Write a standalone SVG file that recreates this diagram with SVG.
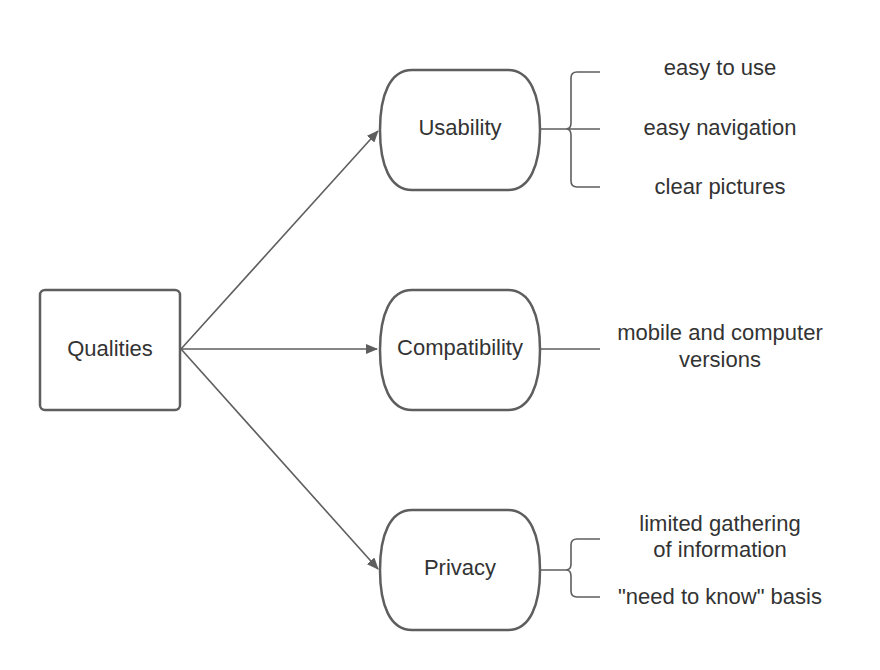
<svg xmlns="http://www.w3.org/2000/svg" width="880" height="670" viewBox="0 0 880 670">
<defs>
<style>
.shape{fill:#fff;stroke:#5e5e5e;stroke-width:2.5}
.ln{fill:none;stroke:#5e5e5e;stroke-width:1.6}
.t{font-family:"Liberation Sans",Arial,sans-serif;font-size:22px;fill:#333;text-anchor:middle}
</style>
<marker id="ah" viewBox="0 0 12 10" refX="11" refY="5" markerWidth="12" markerHeight="10" markerUnits="userSpaceOnUse" orient="auto">
<path d="M0,0 L12,5 L0,10 Z" fill="#5e5e5e"/>
</marker>
</defs>
<rect width="880" height="670" fill="#fff"/>
<g id="connectors">
<line class="ln" x1="181" y1="349" x2="378" y2="131" marker-end="url(#ah)"/>
<line class="ln" x1="181" y1="349" x2="377" y2="349" marker-end="url(#ah)"/>
<line class="ln" x1="181" y1="349" x2="378" y2="569" marker-end="url(#ah)"/>
<path class="ln" d="M540,129 H600 M600,72 H577 Q571,72 571,78 V123 Q571,129 566,129 Q571,129 571,135 V181 Q571,187 577,187 H600"/>
<line class="ln" x1="540" y1="349" x2="600" y2="349"/>
<path class="ln" d="M540,570 H566 Q571,570 571,564 V545 Q571,539 577,539 H600 M571,576 Q571,570 566,570 M571,576 V591 Q571,597 577,597 H600"/>
</g>
<g id="qualities">
<rect class="shape" x="40" y="290" width="140" height="120" rx="5"/>
<text class="t" x="110" y="356">Qualities</text>
</g>
<g id="usability">
<path class="shape" d="M412,70 H508 C530,70 540,95 540,130 C540,165 530,190 508,190 H412 C390,190 380,165 380,130 C380,95 390,70 412,70 Z"/>
<text class="t" x="460" y="135">Usability</text>
</g>
<g id="compatibility">
<path class="shape" d="M412,290 H508 C530,290 540,315 540,350 C540,385 530,410 508,410 H412 C390,410 380,385 380,350 C380,315 390,290 412,290 Z"/>
<text class="t" x="460" y="355">Compatibility</text>
</g>
<g id="privacy">
<path class="shape" d="M412,510 H508 C530,510 540,535 540,570 C540,605 530,630 508,630 H412 C390,630 380,605 380,570 C380,535 390,510 412,510 Z"/>
<text class="t" x="460" y="575">Privacy</text>
</g>
<g id="usability-notes">
<text class="t" x="720" y="75">easy to use</text>
<text class="t" x="720" y="135">easy navigation</text>
<text class="t" x="720" y="194">clear pictures</text>
</g>
<g id="compatibility-notes">
<text class="t" x="720" y="340">mobile and computer</text>
<text class="t" x="720" y="367">versions</text>
</g>
<g id="privacy-notes">
<text class="t" x="720" y="531">limited gathering</text>
<text class="t" x="720" y="557">of information</text>
<text class="t" x="720" y="604">"need to know" basis</text>
</g>
</svg>
